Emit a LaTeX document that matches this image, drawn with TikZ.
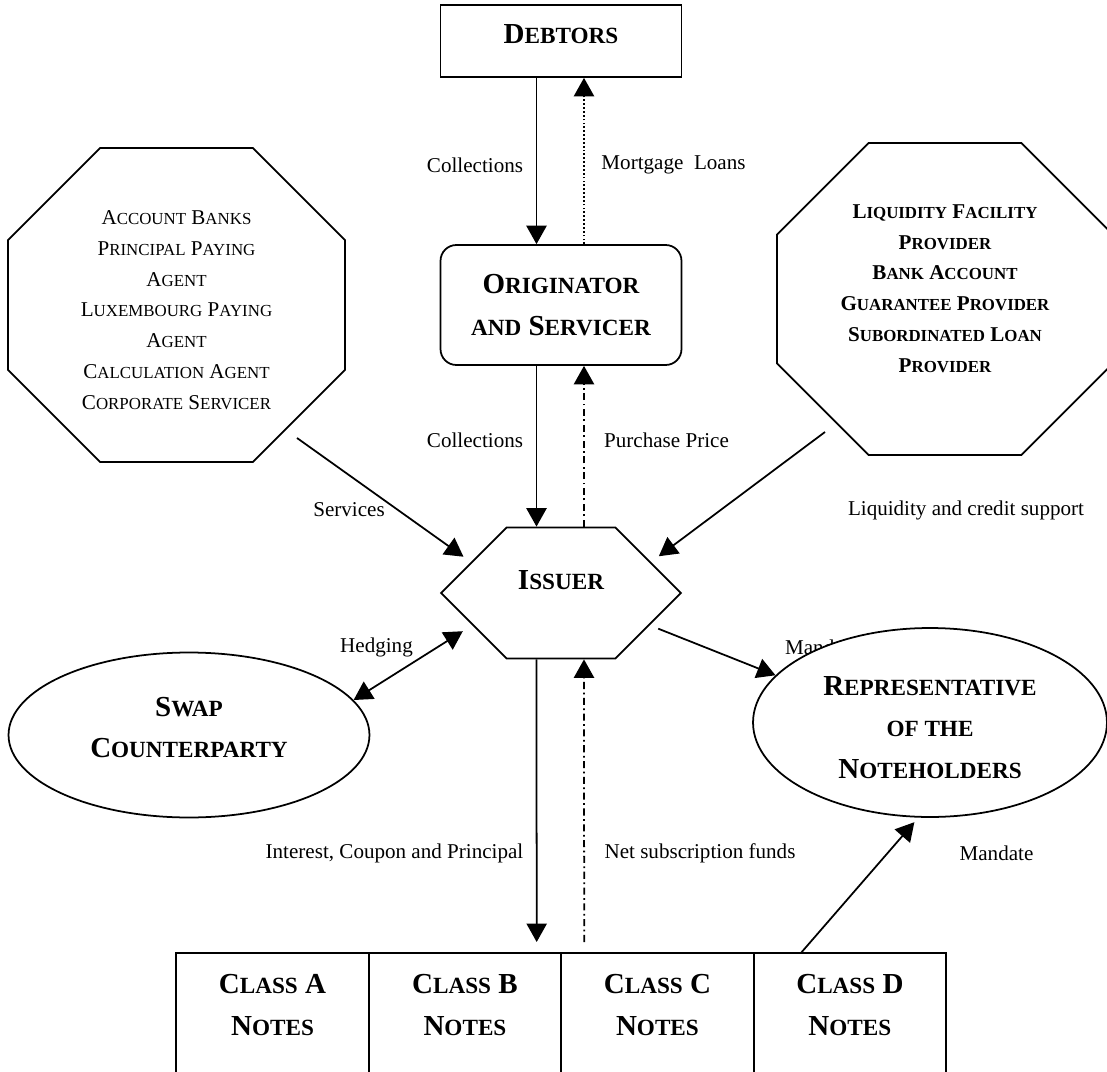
\documentclass[tikz,border=0pt]{standalone}
\usepackage{fontspec}
\setmainfont{Liberation Serif}
\usepackage{tikz}
\usetikzlibrary{arrows.meta, positioning, shapes.geometric, shapes.misc}

% small capitals, faked from smaller upper case letters
\newcommand{\bsc}[1]{{\fontsize{13.2}{23.5}\selectfont #1}}
\newcommand{\tsc}[1]{{\fontsize{9.6}{17.5}\selectfont #1}}
% octagon round a (not drawn) rectangular node: name, corner cut
\newcommand{\octagon}[2]{\draw ([xshift=#2]#1.north west) -- ([xshift=-#2]#1.north east)
    -- ([yshift=-#2]#1.north east) -- ([yshift=#2]#1.south east)
    -- ([xshift=-#2]#1.south east) -- ([xshift=#2]#1.south west)
    -- ([yshift=#2]#1.south west) -- ([yshift=-#2]#1.north west) -- cycle;}

\begin{document}
\begin{tikzpicture}[x=0.02cm, y=-0.02cm, line width=1pt,
    big/.style={font=\fontsize{16.5}{23.5}\selectfont\bfseries, align=center, inner sep=0pt},
    lbl/.style={font=\fontsize{12}{14}\selectfont, inner sep=0pt},
    party/.style={align=center, inner sep=0pt, outer sep=0pt},
    notes/.style={big, draw, minimum width=3.85cm, minimum height=2.64cm,
        text depth=16pt, outer sep=0pt},
    flow/.style={-{Triangle[length=10.5pt, width=11.5pt]}},
    twoway/.style={{Triangle[length=10.5pt, width=11.5pt]}-{Triangle[length=10.5pt, width=11.5pt]}},
    loans/.style={dash pattern=on 1pt off 1.2pt},
    funds/.style={dash pattern=on 4pt off 2pt on 1pt off 2pt}]

    \useasboundingbox (0,0) rectangle (1107,1072);

    % ============================================================
    % DEBTORS, ORIGINATOR, ISSUER
    % ============================================================
    \node[big, draw, minimum width=4.82cm, minimum height=1.44cm, text depth=8pt]
        (debtors) at (561,41) {D\bsc{EBTORS}};
    \node[big, draw, rounded corners=9pt, minimum width=4.82cm, minimum height=2.4cm]
        (orig) at (561,305) {O\bsc{RIGINATOR}\\\bsc{AND} S\bsc{ERVICER}};
    \node[big, draw, chamfered rectangle, chamfered rectangle sep=1.2cm,
        minimum width=4.8cm, minimum height=2.4cm, text depth=14.8pt]
        (issuer) at (561,593) {I\bsc{SSUER}};

    % ============================================================
    % AGENTS AND SUPPORT PROVIDERS
    % ============================================================
    \node[party, minimum width=6.74cm, minimum height=6.28cm,
        font=\fontsize{12}{17.5}\selectfont, text height=118.6pt]
        (agents) at (176.5,305)
        {A\tsc{CCOUNT} B\tsc{ANKS}\\P\tsc{RINCIPAL} P\tsc{AYING}\\A\tsc{GENT}\\
         L\tsc{UXEMBOURG} P\tsc{AYING}\\A\tsc{GENT}\\C\tsc{ALCULATION} A\tsc{GENT}\\
         C\tsc{ORPORATE} S\tsc{ERVICER}};
    \octagon{agents}{1.84cm}
    \node[party, minimum width=6.72cm, minimum height=6.24cm,
        font=\fontsize{12}{17.5}\selectfont\bfseries, text depth=12pt]
        (liq) at (945,299)
        {L\tsc{IQUIDITY} F\tsc{ACILITY}\\P\tsc{ROVIDER}\\B\tsc{ANK} A\tsc{CCOUNT}\\
         G\tsc{UARANTEE} P\tsc{ROVIDER}\\S\tsc{UBORDINATED} L\tsc{OAN}\\P\tsc{ROVIDER}};
    \octagon{liq}{1.83cm}

    % ============================================================
    % SWAP COUNTERPARTY AND REPRESENTATIVE
    % ============================================================
    \node[big, draw, ellipse, minimum width=7.22cm, minimum height=3.3cm, text depth=8.5pt]
        (swap) at (189,735) {S\bsc{WAP}\\C\bsc{OUNTERPARTY}};
    \node[lbl] (lmand) at (822,647) {Mandate};
    \node[big, draw, ellipse, fill=white, minimum width=7.08cm, minimum height=3.78cm,
        text height=63.6pt]
        (rep) at (930,722.5) {R\bsc{EPRESENTATIVE}\\\bsc{OF THE}\\N\bsc{OTEHOLDERS}};

    % ============================================================
    % NOTES
    % ============================================================
    \node[notes] (notesa) at (272.5,1019) {C\bsc{LASS} A\\N\bsc{OTES}};
    \node[notes, right=0pt of notesa] (notesb) {C\bsc{LASS} B\\N\bsc{OTES}};
    \node[notes, right=0pt of notesb] (notesc) {C\bsc{LASS} C\\N\bsc{OTES}};
    \node[notes, right=0pt of notesc] (notesd) {C\bsc{LASS} D\\N\bsc{OTES}};

    % ============================================================
    % FLOWS
    % ============================================================
    \draw[flow] ([xshift=-0.49cm]debtors.south) -- ([xshift=-0.49cm]orig.north);
    \draw[flow, loans] ([xshift=0.46cm]orig.north) -- ([xshift=0.46cm]debtors.south);
    \draw[flow] ([xshift=-0.49cm]orig.south) -- ([xshift=-0.49cm]issuer.north);
    \draw[flow, funds] ([xshift=0.46cm]issuer.north) -- ([xshift=0.46cm]orig.south);

    \draw[flow, shorten >=0.18cm] ([xshift=-0.96cm, yshift=0.48cm]agents.south east) -- (issuer.161);
    \draw[flow, shorten >=0.19cm] ([xshift=0.96cm, yshift=0.46cm]liq.south west) -- (issuer.19);
    \draw[twoway, shorten <=0.22cm] (issuer.-160) -- (swap.12);
    \draw[flow, shorten <=0.18cm] (issuer.-20) -- (rep.163);

    \draw[flow, shorten >=0.22cm] ([xshift=-0.49cm]issuer.south) -- ([xshift=-0.49cm]notesb.north east);
    \draw[flow, funds, shorten <=0.22cm] ([xshift=0.46cm]notesc.north west) -- ([xshift=0.46cm]issuer.south);
    \draw[flow, shorten >=0.12cm] ([xshift=-0.98cm]notesd.north) -- (rep.-97);

    % labels
    \node[lbl] (lcol) at (475,165) {Collections};
    \node[lbl] (lmort) at (673.5,165) {Mortgage~~Loans};
    \node[lbl] (lcoll) at (475,440) {Collections};
    \node[lbl] (lprice) at (666.5,440) {Purchase Price};
    \node[lbl] (lserv) at (349,510) {Services};
    \node[lbl] (lliq) at (966,510) {Liquidity and credit support};
    \node[lbl] (lhedge) at (376.5,647) {Hedging};
    \node[lbl] (lint) at (394.5,853) {Interest, Coupon and Principal};
    \node[lbl] (lnet) at (700,853) {Net subscription funds};
    \node[lbl] (lmandd) at (996.5,853) {Mandate};

\end{tikzpicture}
\end{document}
